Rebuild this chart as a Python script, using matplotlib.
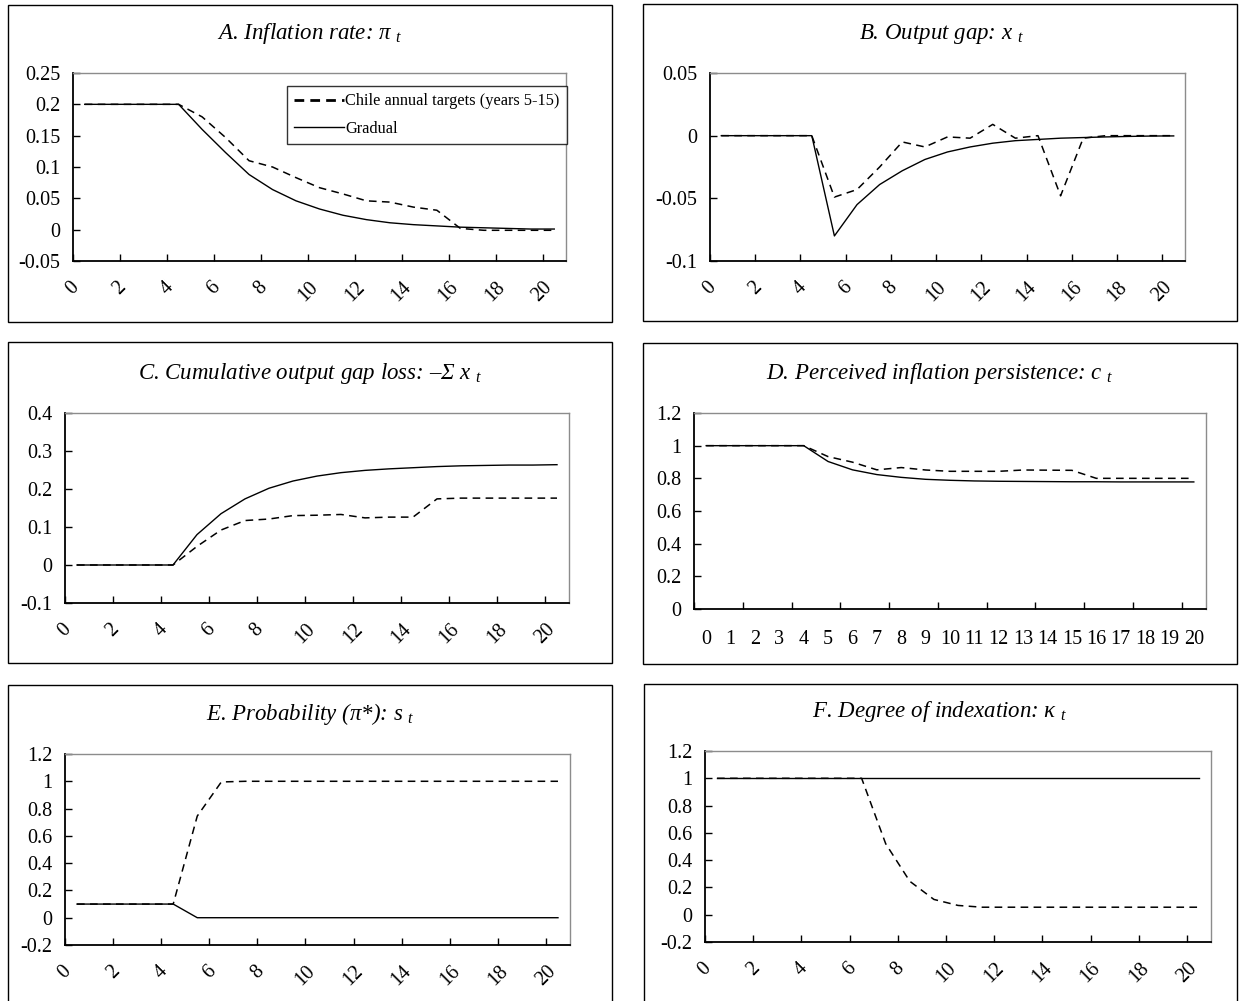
import numpy as np
import matplotlib
matplotlib.use('Agg')
import matplotlib.pyplot as plt
from matplotlib.lines import Line2D
from matplotlib.patches import Rectangle

plt.rcParams['font.family'] = ['Liberation Serif', 'DejaVu Serif']
plt.rcParams['mathtext.fontset'] = 'custom'
plt.rcParams['mathtext.rm'] = 'Liberation Serif'
plt.rcParams['mathtext.it'] = 'Liberation Serif:italic'

# ----------------------------------------------------------------------
# Data
periods = list(range(21))

infl_chile = [0.2, 0.2, 0.2, 0.2, 0.2, 0.180, 0.147, 0.110, 0.100, 0.083, 0.067,
              0.057, 0.046, 0.044, 0.036, 0.031, 0.002, -0.001, -0.001, -0.001, -0.001]
infl_grad = [0.2, 0.2, 0.2, 0.2, 0.2, 0.160, 0.123, 0.088, 0.064, 0.046, 0.033,
             0.023, 0.016, 0.011, 0.008, 0.006, 0.004, 0.003, 0.002, 0.001, 0.001]

gap_chile = [0, 0, 0, 0, 0, -0.049, -0.043, -0.025, -0.005, -0.009, -0.001,
             -0.002, 0.009, -0.002, 0.0, -0.048, -0.002, 0, 0, 0, 0]
gap_grad = [0, 0, 0, 0, 0, -0.080, -0.055, -0.039, -0.028, -0.019, -0.013,
            -0.009, -0.006, -0.004, -0.003, -0.002, -0.0015, -0.001, -0.0006, -0.0003, -0.0002]

cum_chile = [0, 0, 0, 0, 0, 0.049, 0.092, 0.117, 0.121, 0.130, 0.131,
             0.133, 0.124, 0.126, 0.126, 0.174, 0.176, 0.176, 0.176, 0.176, 0.176]
cum_grad = [0, 0, 0, 0, 0, 0.080, 0.135, 0.174, 0.202, 0.221, 0.234,
            0.243, 0.249, 0.253, 0.256, 0.259, 0.261, 0.262, 0.263, 0.263, 0.264]

pers_chile = [1, 1, 1, 1, 1, 0.933, 0.899, 0.852, 0.866, 0.851, 0.843,
              0.843, 0.843, 0.851, 0.850, 0.849, 0.800, 0.800, 0.800, 0.800, 0.800]
pers_grad = [1, 1, 1, 1, 1, 0.903, 0.852, 0.823, 0.806, 0.794, 0.788,
             0.784, 0.782, 0.781, 0.780, 0.779, 0.779, 0.778, 0.778, 0.778, 0.778]

prob_chile = [0.1, 0.1, 0.1, 0.1, 0.1, 0.745, 0.995, 1, 1, 1, 1,
              1, 1, 1, 1, 1, 1, 1, 1, 1, 1]
prob_grad = [0.1, 0.1, 0.1, 0.1, 0.1, 0, 0, 0, 0, 0, 0,
             0, 0, 0, 0, 0, 0, 0, 0, 0, 0]

index_chile = [1, 1, 1, 1, 1, 1, 1, 0.52, 0.245, 0.112, 0.068,
               0.055, 0.055, 0.055, 0.055, 0.055, 0.055, 0.055, 0.055, 0.055, 0.055]
index_grad = [1] * 21

titles = ['A. Inflation rate: \u03c0 $_t$',
          'B. Output gap: x $_t$',
          'C. Cumulative output gap loss: \u2013\u03a3 x $_t$',
          'D. Perceived inflation persistence: c $_t$',
          'E. Probability (\u03c0*): s $_t$',
          'F. Degree of indexation: \u03ba $_t$']

yticks_A = [-0.05, 0, 0.05, 0.1, 0.15, 0.2, 0.25]
yticks_B = [-0.1, -0.05, 0, 0.05]
yticks_C = [-0.1, 0, 0.1, 0.2, 0.3, 0.4]
yticks_D = [0, 0.2, 0.4, 0.6, 0.8, 1, 1.2]
yticks_EF = [-0.2, 0, 0.2, 0.4, 0.6, 0.8, 1, 1.2]

legend_labels = ['Chile annual targets (years 5-15)', 'Gradual']

# ----------------------------------------------------------------------
W, H = 1241, 1001
fig = plt.figure(figsize=(W / 100., H / 100.), dpi=100)
fig.patch.set_facecolor('white')

def px_rect(x0, y0, x1, y1):
    return [x0 / W, 1 - y1 / H, (x1 - x0) / W, (y1 - y0) / H]

# panel boxes (pixels), plot areas (pixels), title centre (pixels)
boxes = [(8, 5, 612, 322), (643, 4, 1237, 321),
         (8, 342, 612, 663), (643, 343, 1237, 664),
         (8, 685, 612, 1040), (644, 684, 1237, 1040)]
areas = [(73, 73, 566, 261), (710, 73, 1185, 261),
         (65, 413, 569, 603), (694, 413, 1206, 609),
         (65, 754, 570, 945), (705, 751, 1211, 942)]
title_pos = [(310, 34), (942, 34), (310, 374), (940, 374), (310, 714), (940, 711)]

series = [(infl_chile, infl_grad, yticks_A),
          (gap_chile, gap_grad, yticks_B),
          (cum_chile, cum_grad, yticks_C),
          (pers_chile, pers_grad, yticks_D),
          (prob_chile, prob_grad, yticks_EF),
          (index_chile, index_grad, yticks_EF)]

xs = np.array(periods) + 0.5
tick_fs = 14.5

for k in range(6):
    bx = boxes[k]
    fig.patches.append(Rectangle((bx[0] / W, 1 - bx[3] / H), (bx[2] - bx[0]) / W,
                                 (bx[3] - bx[1]) / H, transform=fig.transFigure,
                                 fill=False, ec='black', lw=1.0))
    fig.text(title_pos[k][0] / W, 1 - title_pos[k][1] / H, titles[k],
             ha='center', va='center', fontsize=16.5, style='italic')

    ax = fig.add_axes(px_rect(*areas[k]))
    chile, grad, yt = series[k]
    ax.plot(xs, grad, color='black', lw=1.0, label=legend_labels[1])
    ax.plot(xs, chile, color='black', lw=1.1, dashes=(5, 3.5), label=legend_labels[0])

    ax.set_xlim(0, 21)
    ax.set_ylim(yt[0], yt[-1])
    ax.set_yticks(yt)
    ax.set_yticklabels(['%g' % v for v in yt], fontsize=tick_fs)

    if k == 3:
        ax.set_xticks(range(0, 21, 2))
        ax.set_xticklabels([])
        ax.set_xticks(xs, minor=True)
        ax.set_xticklabels([str(p) for p in periods], minor=True, fontsize=tick_fs)
        ax.tick_params(axis='x', which='minor', length=0, pad=15)
    else:
        ax.set_xticks(range(0, 21, 2))
        ax.set_xticklabels([str(p) for p in range(0, 21, 2)], fontsize=tick_fs,
                           rotation=45, ha='center', va='top')
        ax.tick_params(axis='x', which='major', pad=12)

    ax.tick_params(axis='both', which='major', direction='in', length=5, width=1,
                   color='black')
    ax.tick_params(axis='y', pad=9)
    for side in ['left', 'bottom']:
        ax.spines[side].set_color('black')
        ax.spines[side].set_linewidth(1.3)
    for side in ['top', 'right']:
        ax.spines[side].set_color('#8c8c8c')
        ax.spines[side].set_linewidth(1.0)

    if k == 0:
        handles = [Line2D([], [], color='black', lw=2.0, dashes=(3.5, 2.2)),
                   Line2D([], [], color='black', lw=1.0)]
        leg = ax.legend(handles, legend_labels, loc='upper left',
                        bbox_to_anchor=(287 / W, 1 - 86 / H),
                        bbox_transform=fig.transFigure, frameon=True,
                        fancybox=False, fontsize=11.8, handlelength=3.0,
                        handletextpad=0.1, labelspacing=0.7, borderpad=0.45,
                        borderaxespad=0)
        leg.get_frame().set_edgecolor('black')
        leg.get_frame().set_linewidth(1.0)

fig.savefig('out.png', dpi=100, facecolor='white')
